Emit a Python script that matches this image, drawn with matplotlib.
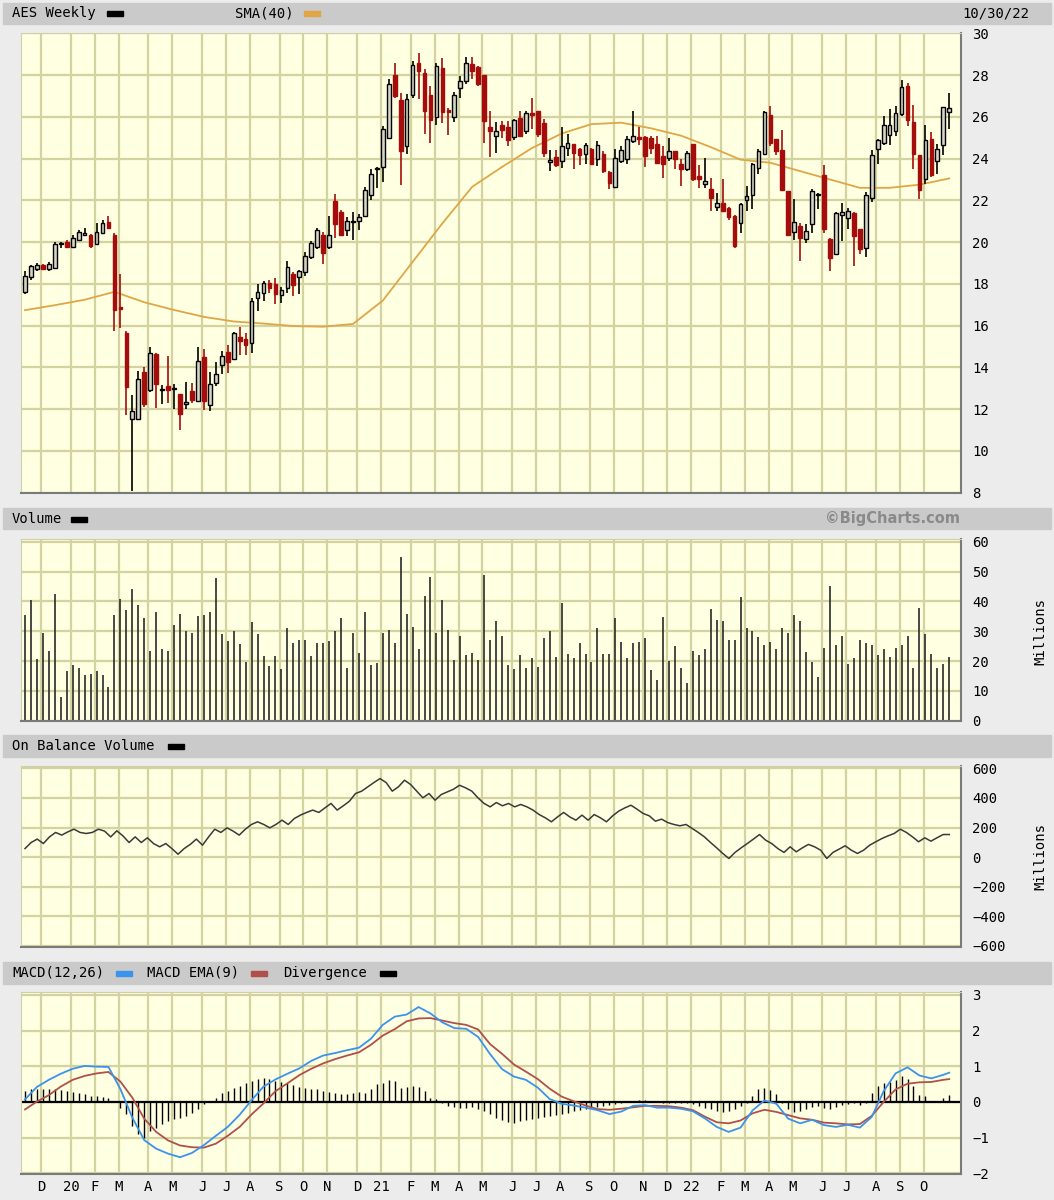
import numpy as np
import pandas as pd
import matplotlib
matplotlib.use("Agg")
import matplotlib.pyplot as plt
from matplotlib.patches import Rectangle

# weekly bars, week ending Sunday
weeks = pd.date_range("2019-11-10", "2022-10-30", freq="W-SUN")

opens = [17.6, 18.35, 18.7, 18.9, 18.7, 18.75, 19.9, 20.0, 19.75, 20.1,
         20.35, 20.35, 19.9, 20.45, 20.95, 20.35, 16.85, 15.65, 11.55, 11.55,
         13.8, 12.9, 14.65, 12.9, 13.1, 12.95, 12.75, 12.25, 12.85, 12.4,
         14.5, 12.2, 13.25, 14.1, 14.75, 14.4, 15.45, 15.35, 15.15, 17.3,
         17.55, 18.05, 18.0, 17.45, 17.8, 18.45, 18.35, 18.55, 19.3, 19.75,
         20.35, 19.75, 21.95, 21.45, 20.6, 20.95, 21.0, 21.25, 22.25, 23.5,
         23.6, 25.0, 28.0, 26.8, 24.6, 27.05, 28.6, 28.1, 27.05, 26.0,
         28.35, 26.35, 26.0, 27.4, 27.7, 28.55, 28.4, 27.98, 25.5, 25.07,
         25.6, 25.5, 25.05, 25.95, 25.3, 26.2, 26.27, 25.7, 23.85, 24.1,
         23.89, 24.53, 24.72, 24.45, 24.21, 24.45, 23.97, 24.21, 23.36, 22.66,
         23.89, 23.97, 24.85, 25.04, 25.04, 25.0, 24.69, 24.13, 24.05, 24.37,
         23.73, 23.49, 24.69, 23.17, 22.77, 22.53, 21.7, 21.89, 21.65, 21.26,
         20.93, 22.02, 22.24, 23.57, 24.21, 26.08, 24.93, 24.42, 22.45, 20.5,
         20.77, 20.13, 20.85, 22.25, 23.2, 20.16, 19.41, 21.28, 21.14, 21.41,
         20.64, 19.73, 22.13, 24.45, 24.77, 25.14, 25.33, 26.13, 27.46, 25.76,
         24.16, 23.04, 24.96, 23.89, 24.64, 26.24]
highs = [18.6, 18.9, 19.0, 18.95, 19.05, 20.0, 20.0, 20.1, 20.35, 20.6,
         20.7, 20.4, 20.9, 21.05, 21.25, 20.45, 18.45, 15.75, 12.7, 13.85,
         14.0, 15.0, 14.7, 13.15, 14.55, 13.2, 12.75, 13.3, 13.25, 15.0,
         14.9, 13.8, 14.25, 14.8, 15.05, 15.7, 15.95, 15.65, 17.3, 18.0,
         18.15, 18.2, 18.3, 17.85, 19.1, 18.55, 18.65, 19.55, 20.05, 20.7,
         20.5, 21.25, 22.3, 21.55, 21.2, 21.45, 21.35, 22.65, 23.5, 23.6,
         25.55, 27.8, 28.6, 27.15, 27.1, 28.65, 29.05, 28.3, 27.5, 28.6,
         28.8, 26.4, 27.2, 27.95, 28.85, 28.85, 28.45, 28.0, 26.3, 25.75,
         25.8, 25.8, 25.9, 26.3, 26.3, 26.9, 26.3, 25.9, 24.4, 24.4,
         25.49, 25.17, 24.72, 24.53, 24.77, 24.5, 24.85, 24.37, 23.41, 24.45,
         24.6, 25.09, 26.29, 25.49, 25.09, 25.09, 25.09, 24.61, 25.01, 24.37,
         23.97, 24.37, 24.69, 23.68, 24.05, 23.09, 22.37, 23.04, 21.7, 21.29,
         21.89, 22.69, 23.81, 24.45, 26.3, 26.53, 24.93, 25.38, 22.45, 22.08,
         20.9, 20.85, 22.53, 22.37, 23.68, 20.21, 21.44, 21.89, 21.65, 21.44,
         20.64, 22.4, 24.42, 24.96, 26.02, 26.37, 26.53, 27.78, 27.62, 26.56,
         24.16, 25.6, 25.25, 24.69, 26.45, 27.14]
lows = [17.5, 18.2, 18.6, 18.65, 18.6, 18.7, 19.7, 19.7, 19.7, 20.1,
        20.3, 19.7, 19.85, 20.4, 20.65, 15.75, 15.9, 11.7, 8.1, 11.5,
        12.1, 12.8, 12.05, 12.25, 12.3, 12.0, 11.0, 12.0, 12.3, 12.35,
        11.95, 11.9, 13.1, 13.7, 13.75, 14.35, 14.6, 14.6, 14.7, 16.7,
        17.2, 17.55, 17.05, 17.1, 17.55, 17.4, 17.5, 18.4, 19.2, 19.65,
        18.95, 19.65, 20.2, 20.35, 20.3, 20.1, 20.6, 21.2, 22.0, 22.6,
        22.9, 24.95, 26.9, 22.75, 24.2, 26.9, 26.85, 25.2, 24.75, 25.6,
        25.7, 25.15, 25.75, 26.9, 27.55, 27.8, 27.5, 24.75, 24.1, 24.25,
        25.0, 24.6, 24.9, 25.1, 25.2, 25.4, 25.05, 24.1, 23.4, 23.6,
        23.57, 24.13, 23.49, 23.68, 23.73, 23.7, 23.65, 23.33, 22.53, 22.58,
        23.81, 23.73, 24.77, 24.64, 23.62, 24.21, 23.73, 23.09, 23.89, 23.49,
        22.69, 23.41, 22.93, 22.61, 22.61, 21.49, 21.49, 21.45, 21.06, 19.72,
        20.45, 21.49, 21.57, 23.25, 24.15, 24.61, 24.16, 22.45, 20.29, 20.1,
        19.09, 19.97, 20.45, 21.57, 20.42, 18.61, 19.41, 20.05, 20.61, 18.88,
        19.41, 19.3, 21.92, 23.73, 24.64, 24.64, 25.06, 26.02, 25.57, 23.49,
        22.05, 22.77, 23.14, 23.25, 24.16, 25.41]
closes = [18.4, 18.85, 18.9, 18.7, 18.95, 19.9, 19.95, 19.75, 20.2, 20.5,
          20.4, 19.8, 20.5, 20.9, 20.7, 16.75, 16.8, 13.05, 11.9, 13.45,
          12.25, 14.7, 13.2, 12.95, 12.9, 12.95, 11.75, 12.3, 12.45, 14.3,
          12.4, 13.2, 13.7, 14.55, 14.25, 15.65, 15.25, 15.05, 17.2, 17.6,
          18.05, 17.8, 17.5, 17.7, 18.8, 17.95, 18.6, 19.35, 19.95, 20.6,
          19.5, 20.35, 20.85, 20.35, 21.0, 21.0, 21.2, 22.5, 23.25, 23.55,
          25.4, 27.55, 27.0, 24.35, 26.85, 28.5, 28.2, 26.3, 25.85, 28.45,
          26.25, 26.25, 27.05, 27.7, 28.6, 28.2, 27.55, 25.8, 25.3, 25.3,
          25.35, 24.9, 25.85, 25.07, 26.2, 26.1, 25.2, 24.28, 23.9, 23.7,
          24.61, 24.77, 24.29, 24.16, 24.64, 23.73, 24.64, 23.41, 22.85, 24.05,
          24.4, 24.93, 25.09, 24.93, 24.13, 24.53, 23.78, 23.73, 24.37, 23.97,
          23.52, 24.29, 23.01, 23.04, 22.93, 22.13, 21.86, 21.49, 21.18, 19.8,
          21.81, 22.21, 23.73, 24.37, 26.24, 24.77, 24.37, 22.5, 20.32, 20.96,
          20.21, 20.53, 22.45, 22.29, 20.61, 19.25, 21.41, 21.44, 21.49, 20.29,
          19.65, 22.24, 24.16, 24.9, 25.6, 25.6, 26.18, 27.41, 25.86, 24.21,
          22.5, 24.9, 23.2, 24.48, 26.45, 26.4]

# millions of shares
volume = [35.5, 40.4, 20.7, 29.5, 23.2, 42.3, 7.8, 16.7, 18.7, 17.7,
          15.4, 15.8, 16.7, 15.4, 11.3, 35.5, 40.8, 37.0, 44.3, 38.9,
          34.5, 23.2, 36.4, 24.1, 23.2, 32.0, 35.9, 30.2, 29.5, 35.0,
          35.5, 36.4, 47.8, 29.0, 26.7, 30.0, 25.6, 19.7, 33.0, 29.0,
          21.7, 18.3, 21.7, 17.3, 31.1, 26.1, 27.1, 27.1, 21.7, 26.1,
          26.1, 26.6, 30.2, 34.5, 17.8, 29.5, 22.6, 36.4, 18.7, 19.2,
          29.5, 30.5, 26.0, 54.7, 35.9, 31.4, 24.1, 41.8, 48.2, 29.5,
          40.4, 30.5, 20.2, 28.5, 22.1, 22.6, 20.2, 48.7, 27.0, 33.4,
          28.5, 18.7, 17.3, 22.1, 17.7, 20.9, 18.1, 27.6, 30.0, 21.5,
          39.4, 22.5, 20.9, 26.0, 22.5, 19.6, 31.0, 22.5, 22.5, 34.3,
          26.5, 20.9, 26.0, 26.5, 27.6, 17.0, 13.6, 34.9, 20.0, 24.9,
          17.6, 12.6, 23.5, 22.1, 24.0, 37.4, 33.9, 33.3, 27.0, 27.0,
          41.3, 31.0, 30.0, 27.9, 25.5, 26.5, 24.0, 31.0, 29.4, 35.5,
          33.3, 22.9, 19.6, 14.6, 24.5, 45.3, 25.5, 28.5, 19.1, 20.9,
          27.0, 26.0, 25.5, 22.1, 24.0, 21.5, 24.5, 25.5, 28.5, 17.6,
          37.8, 28.9, 22.5, 17.6, 19.1, 21.5]

# SMA(40), read every 5th week
sma40 = [16.74, 16.98, 17.24, 17.62, 17.12, 16.75, 16.42, 16.2, 16.1, 15.98,
         15.95, 16.08, 17.2, 19.05, 20.9, 22.65, 23.6, 24.5, 25.2, 25.65,
         25.72, 25.45, 25.1, 24.55, 23.95, 23.8, 23.4, 23.0, 22.6, 22.6,
         22.75, 23.05]

# on balance volume, millions
obv = [58, 99, 122, 92, 137, 167, 149, 171, 189, 167,
       160, 167, 189, 176, 137, 178, 144, 99, 137, 99,
       131, 92, 70, 92, 58, 20, 58, 86, 122, 81,
       137, 189, 167, 198, 176, 149, 189, 221, 239, 221,
       198, 221, 250, 221, 261, 284, 302, 318, 302, 333,
       363, 318, 347, 378, 430, 446, 475, 504, 531, 504,
       446, 475, 520, 491, 446, 401, 430, 385, 423, 441,
       459, 486, 468, 446, 401, 363, 340, 369, 347, 363,
       340, 356, 340, 318, 288, 266, 239, 272, 302, 272,
       250, 284, 250, 288, 266, 239, 279, 311, 333, 351,
       324, 295, 279, 243, 257, 234, 221, 212, 221, 194,
       167, 137, 99, 63, 25, -9, 32, 63, 92, 122,
       153, 115, 92, 58, 32, 70, 36, 63, 86, 70,
       47, -9, 32, 54, 77, 47, 25, 47, 81, 104,
       126, 144, 160, 189, 167, 137, 104, 131, 108, 131,
       153, 153]

# MACD(12,26) and its EMA(9), read every 2nd week plus the last week
macd = [0.07, 0.42, 0.62, 0.79, 0.93, 1.01, 0.99, 0.98, 0.36, -0.44,
        -1.07, -1.31, -1.45, -1.55, -1.43, -1.21, -0.95, -0.70, -0.36, 0.05,
        0.43, 0.63, 0.79, 0.94, 1.15, 1.30, 1.37, 1.45, 1.52, 1.77,
        2.16, 2.39, 2.45, 2.66, 2.48, 2.23, 2.07, 2.05, 1.82, 1.34,
        0.92, 0.71, 0.62, 0.40, 0.08, -0.05, -0.10, -0.16, -0.23, -0.34,
        -0.27, -0.11, -0.09, -0.16, -0.16, -0.19, -0.26, -0.46, -0.70, -0.84,
        -0.72, -0.24, 0.04, -0.05, -0.47, -0.60, -0.50, -0.65, -0.70, -0.64,
        -0.72, -0.42, 0.30, 0.80, 0.97, 0.74, 0.66, 0.76, 0.82]
macd_ema = [-0.21, 0.01, 0.19, 0.43, 0.62, 0.73, 0.80, 0.84, 0.57, 0.12,
            -0.47, -0.84, -1.08, -1.22, -1.27, -1.28, -1.17, -0.95, -0.70, -0.35,
            -0.04, 0.30, 0.52, 0.75, 0.93, 1.08, 1.20, 1.30, 1.39, 1.60,
            1.86, 2.04, 2.26, 2.34, 2.35, 2.28, 2.21, 2.16, 2.03, 1.62,
            1.35, 1.05, 0.85, 0.64, 0.37, 0.15, 0.02, -0.10, -0.20, -0.22,
            -0.19, -0.15, -0.11, -0.11, -0.12, -0.16, -0.23, -0.41, -0.57, -0.60,
            -0.52, -0.32, -0.22, -0.28, -0.37, -0.46, -0.50, -0.58, -0.60, -0.63,
            -0.62, -0.39, 0.00, 0.35, 0.51, 0.55, 0.56, 0.62, 0.64]
divergence = [0.31, 0.36, 0.37, 0.36, 0.37, 0.36, 0.34, 0.31, 0.28, 0.26,
              0.21, 0.17, 0.17, 0.15, 0.12, 0.0, -0.16, -0.35, -0.67, -0.91,
              -1.0, -0.81, -0.72, -0.63, -0.53, -0.49, -0.44, -0.39, -0.30, -0.19,
              -0.07, 0.0, 0.12, 0.24, 0.31, 0.40, 0.45, 0.52, 0.59, 0.65,
              0.68, 0.64, 0.59, 0.56, 0.52, 0.47, 0.43, 0.40, 0.37, 0.36,
              0.31, 0.28, 0.24, 0.21, 0.21, 0.24, 0.28, 0.26, 0.36, 0.50,
              0.54, 0.62, 0.59, 0.40, 0.43, 0.45, 0.43, 0.31, 0.12, 0.09,
              -0.04, -0.11, -0.13, -0.16, -0.16, -0.13, -0.19, -0.25, -0.35, -0.44,
              -0.50, -0.56, -0.58, -0.53, -0.50, -0.47, -0.44, -0.41, -0.39, -0.37,
              -0.35, -0.30, -0.25, -0.22, -0.19, -0.16, -0.13, -0.11, -0.09, -0.07,
              -0.04, 0.0, 0.03, 0.06, 0.06, 0.03, 0.0, -0.02, -0.02, -0.04,
              -0.02, -0.04, -0.07, -0.11, -0.16, -0.21, -0.25, -0.28, -0.25, -0.19,
              -0.11, -0.02, 0.17, 0.37, 0.40, 0.34, 0.21, -0.04, -0.21, -0.28,
              -0.25, -0.19, -0.13, -0.11, -0.16, -0.19, -0.13, -0.09, -0.07, -0.04,
              -0.09, -0.04, 0.26, 0.45, 0.54, 0.56, 0.62, 0.73, 0.64, 0.45,
              0.19, 0.17, 0.0, 0.0, 0.12, 0.19]

W, H = 1054, 1200
BG = "#ececec"
HEAD = "#cacaca"
PLOT = "#ffffe2"
GRID = "#d3d3a0"
RED = "#a50d0d"
HOLLOW = "#d6d6c6"

plt.rcParams["font.family"] = ["DejaVu Sans Mono"]
plt.rcParams["font.size"] = 10

fig = plt.figure(figsize=(W / 100, H / 100), dpi=100, facecolor=BG)


def fx(x):
    return x / W


def fy(y):
    return 1 - y / H


def header(top, bottom):
    fig.patches.append(Rectangle((fx(3), fy(bottom)), fx(1048), (bottom - top) / H,
                                 transform=fig.transFigure, color=HEAD, zorder=0))


def swatch(x, y, color):
    fig.patches.append(Rectangle((fx(x), fy(y + 2.5)), fx(16), 5 / H,
                                 transform=fig.transFigure, color=color, zorder=1))


def label(x, y, s, **kw):
    fig.text(fx(x), fy(y), s, va="center", **kw)


n = len(weeks)
xs = np.arange(n)
new_month = np.flatnonzero(weeks.month[1:] != weeks.month[:-1]) + 1
grid_x = new_month - 0.3
month_lbl = [str(d.year)[2:] if d.month == 1 else d.strftime("%b")[0]
             for d in weeks[new_month]]


def panel(top, bottom, ylim, yticks):
    ax = fig.add_axes([fx(21), fy(bottom), fx(940), (bottom - top) / H])
    ax.set_facecolor(PLOT)
    ax.set_xlim(-0.67, n + 0.97)
    ax.set_ylim(*ylim)
    ax.set_yticks(yticks)
    ax.set_xticks(grid_x)
    ax.set_xticklabels([])
    ax.yaxis.tick_right()
    ax.tick_params(length=0, pad=8, labelsize=10)
    ax.grid(True, color=GRID, lw=1.6)
    ax.set_axisbelow(True)
    for s in ("left", "top"):
        ax.spines[s].set_color("#cfcfa8")
    for s in ("right", "bottom"):
        ax.spines[s].set_color("#7a7a7a")
        ax.spines[s].set_linewidth(1.5)
    return ax


# headers
header(3, 24)
header(508, 529)
header(735, 757)
header(962, 984)

label(12, 13.5, "AES Weekly")
swatch(107, 13.5, "black")
label(235, 13.5, "SMA(40)")
swatch(304, 13.5, "#e0a646")
label(962, 13.5, "10/30/22")

label(12, 519, "Volume")
swatch(71, 519, "black")
fig.text(fx(960), fy(519), "\u00a9BigCharts.com", ha="right", va="center",
         family="DejaVu Sans", weight="bold", size=10.5, color="#8a8a8a")

label(12, 746, "On Balance Volume")
swatch(168, 746, "black")

label(12, 973, "MACD(12,26)")
swatch(116, 973, "#3b93ec")
label(147, 973, "MACD EMA(9)")
swatch(251, 973, "#b0504a")
label(283, 973, "Divergence")
swatch(380, 973, "black")

fig.text(fx(1040), fy(632), "Millions", rotation=90, ha="center", va="center")
fig.text(fx(1040), fy(857), "Millions", rotation=90, ha="center", va="center")

# price panel
ax1 = panel(33.3, 492.7, (8, 30), range(8, 31, 2))
o = np.array(opens)
c = np.array(closes)
down = c < o
cols = np.where(down, RED, "black")
ax1.vlines(xs, lows, highs, colors=cols, lw=1.2, zorder=3)
body_h = np.maximum(np.abs(c - o), 0.07)
ax1.bar(xs, body_h, bottom=np.minimum(o, c), width=0.62,
        color=np.where(down, RED, HOLLOW), edgecolor=cols, lw=1.0, zorder=4)
ax1.plot(np.arange(0, n, 5), sma40, color="#e0a646", lw=1.3, zorder=2)

# volume panel
ax2 = panel(539.3, 720.7, (0, 60.8), range(0, 61, 10))
ax2.vlines(xs, 0, volume, colors="#2a2a2a", lw=1.2)

# OBV panel
ax3 = panel(765.7, 947, (-607, 618), range(-600, 601, 200))
ax3.plot(np.linspace(0, n - 1, len(obv)), obv, color="#3a3a3a", lw=1.1)

# MACD panel
ax4 = panel(991.7, 1174, (-2.02, 3.09), range(-2, 4))
mx = np.append(np.arange(0, n - 1, 2), n - 1)
ax4.axhline(0, color="black", lw=1.6, zorder=2)
ax4.vlines(xs, 0, divergence, colors="black", lw=1.0, zorder=2)
ax4.plot(mx, macd_ema, color="#b0504a", lw=1.3, zorder=3)
ax4.plot(mx, macd, color="#3b93ec", lw=1.3, zorder=4)
ax4.set_xticklabels(month_lbl)
ax4.tick_params(axis="x", pad=4)

fig.savefig("out.png", dpi=100, facecolor=BG)
